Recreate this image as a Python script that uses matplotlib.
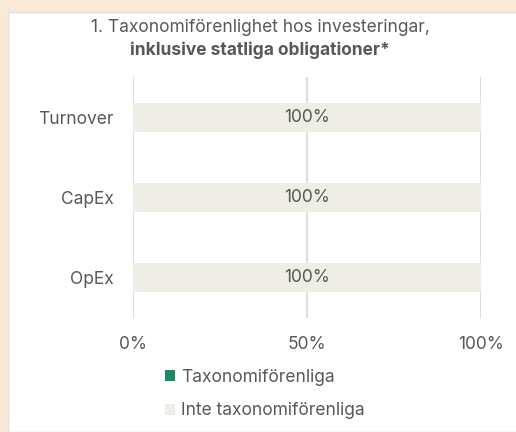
import matplotlib.pyplot as plt
from matplotlib.patches import Rectangle, Patch

categories = ['Turnover', 'CapEx', 'OpEx']
aligned = [0, 0, 0]
not_aligned = [100, 100, 100]
xticks = [0, 50, 100]
xtick_labels = ['0%', '50%', '100%']

plt.rcParams['font.family'] = ['Inter', 'DejaVu Sans']
txt = '#585858'
green = '#1a8a62'
beige = '#eeede6'
fs = 12.5

fig = plt.figure(figsize=(5.16, 4.32), dpi=100)
fig.patch.set_facecolor('#fbe9d7')
fig.patches.append(Rectangle((8/516, 0), 1, 1 - 12/432, transform=fig.transFigure,
                             facecolor='white', edgecolor='#e6e0da', lw=1, zorder=-5))

ax = fig.add_axes([133/516, 1 - 318/432, 348/516, 241/432])
ax.set_facecolor('none')
y = list(range(len(categories)))
ax.barh(y, aligned, height=0.36, color=green, zorder=2)
ax.barh(y, not_aligned, left=aligned, height=0.36, color=beige, zorder=2)
for i, v in enumerate(not_aligned):
    ax.text(aligned[i] + v / 2, i, f'{v}%', ha='center', va='center',
            fontsize=fs, color=txt, zorder=3)

ax.set_xlim(0, 100)
ax.set_ylim(2.5, -0.5)
ax.set_xticks(xticks)
ax.set_xticklabels(xtick_labels)
ax.set_yticks(y)
ax.set_yticklabels(categories)
ax.tick_params(length=0, labelsize=fs, labelcolor=txt)
ax.tick_params(axis='x', pad=13)
ax.tick_params(axis='y', pad=14)
ax.grid(axis='x', color='#dedede', lw=1.5, zorder=1)
for s in ax.spines.values():
    s.set_visible(False)

fig.text(260/516, 1 - 27/432, '1. Taxonomiförenlighet hos investeringar,',
         ha='center', va='center', fontsize=fs, color=txt)
fig.text(260/516, 1 - 50/432, 'inklusive statliga obligationer*',
         ha='center', va='center', fontsize=fs, color=txt, fontweight='bold')

handles = [Patch(facecolor=green), Patch(facecolor=beige)]
fig.legend(handles, ['Taxonomiförenliga', 'Inte taxonomiförenliga'],
           loc='upper left', bbox_to_anchor=(165/516, 1 - 369/432), frameon=False,
           fontsize=fs, labelcolor=txt, handlelength=0.6, handleheight=0.6,
           handletextpad=0.35, labelspacing=0.95, borderpad=0, borderaxespad=0)

fig.savefig('out.png', dpi=100, facecolor=fig.get_facecolor())
